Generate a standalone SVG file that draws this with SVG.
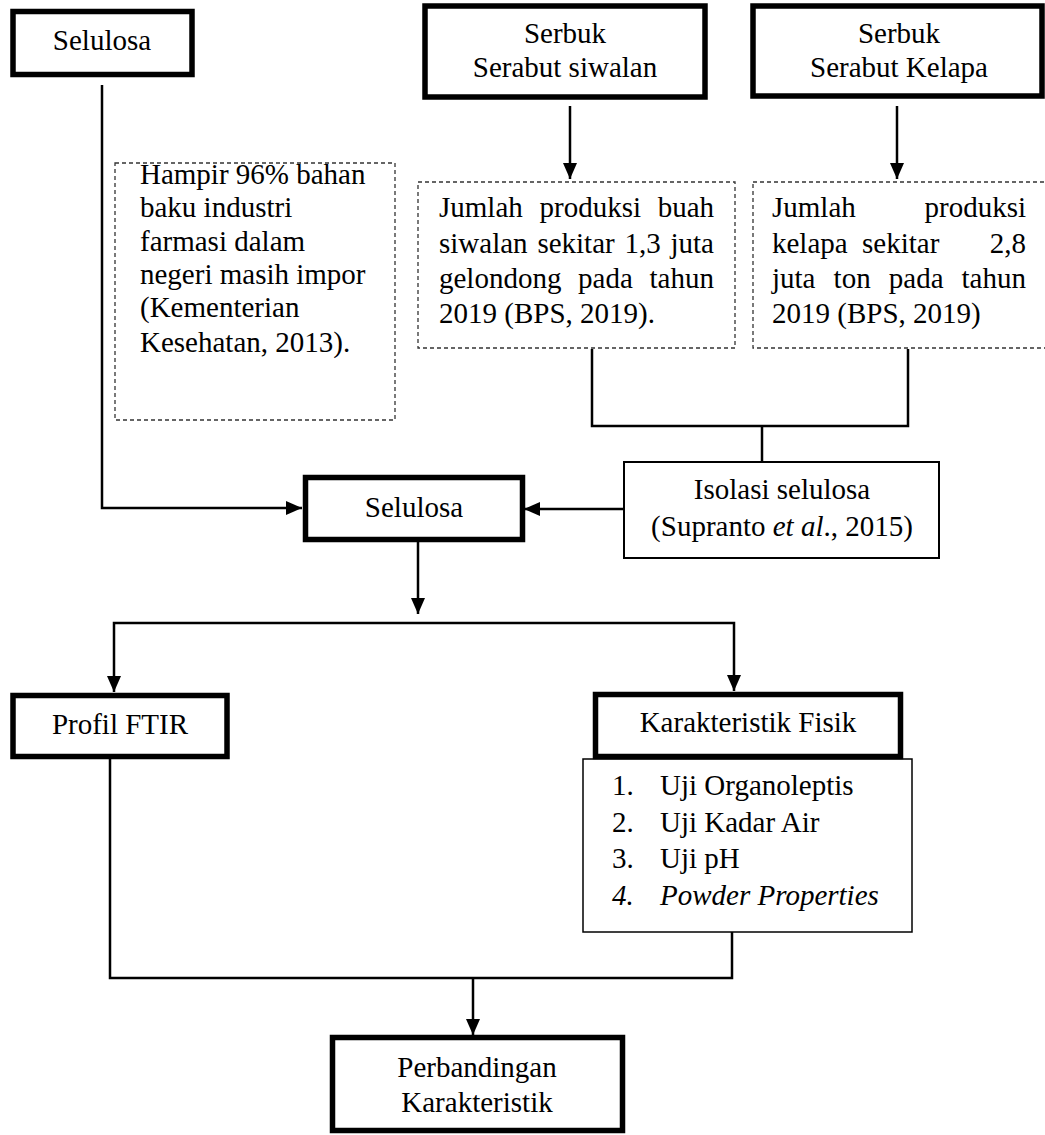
<svg xmlns="http://www.w3.org/2000/svg" width="1045" height="1135" viewBox="0 0 1045 1135">
<style>
text{font-family:"Liberation Serif","Times New Roman",serif;font-size:29px;fill:#000}
.c{text-anchor:middle}
.e{text-anchor:end}
.i{font-style:italic}
.thick{fill:#fff;stroke:#000;stroke-width:5.5}
.thin{fill:#fff;stroke:#000;stroke-width:2}
.dash{fill:#fff;stroke:#333;stroke-width:1.3;stroke-dasharray:4 3}
.conn path{fill:none;stroke:#000;stroke-width:2.5}
</style>
<defs>
<marker id="ah" markerUnits="userSpaceOnUse" viewBox="0 0 16 14" refX="16" refY="7" markerWidth="16" markerHeight="14" orient="auto">
<path d="M0,0 L16,7 L0,14 z" fill="#000"/>
</marker>
</defs>
<rect width="1045" height="1135" fill="#fff"/>

<g class="conn">
<path d="M102,85 V508 H302" marker-end="url(#ah)"/>
<path d="M570,106 V179" marker-end="url(#ah)"/>
<path d="M897,106 V179" marker-end="url(#ah)"/>
<path d="M592,349 V426 H908 V349"/>
<path d="M762,426 V461"/>
<path d="M623,509 H524" marker-end="url(#ah)"/>
<path d="M418,542 V614" marker-end="url(#ah)"/>
<path d="M418,623 H114 V692" marker-end="url(#ah)"/>
<path d="M418,623 H734 V691" marker-end="url(#ah)"/>
<path d="M110,757 V978 H732 V932"/>
<path d="M473,978 V1035" marker-end="url(#ah)"/>
</g>

<g id="selulosa-top">
<rect class="thick" x="13" y="11.5" width="179" height="63"/>
<text class="c" x="102" y="50">Selulosa</text>
</g>

<g id="serbuk-siwalan">
<rect class="thick" x="425" y="6" width="280" height="91"/>
<text class="c" x="565" y="43">Serbuk</text>
<text class="c" x="565" y="77">Serabut siwalan</text>
</g>

<g id="serbuk-kelapa">
<rect class="thick" x="753" y="6" width="289" height="90"/>
<text class="c" x="899" y="43">Serbuk</text>
<text class="c" x="899" y="77">Serabut Kelapa</text>
</g>

<g id="info-impor">
<rect class="dash" x="115" y="163" width="280" height="257"/>
<text x="140" y="184">Hampir 96% bahan</text>
<text x="140" y="217">baku industri</text>
<text x="140" y="251">farmasi dalam</text>
<text x="140" y="284">negeri masih impor</text>
<text x="140" y="317">(Kementerian</text>
<text x="140" y="352">Kesehatan, 2013).</text>
</g>

<g id="info-siwalan">
<rect class="dash" x="418" y="182" width="317" height="166"/>
<text x="439" y="217">Jumlah</text><text x="539.5" y="217">produksi</text><text class="e" x="714" y="217">buah</text>
<text x="439" y="253">siwalan</text><text x="537.4" y="253">sekitar</text><text x="624.5" y="253">1,3</text><text class="e" x="714" y="253">juta</text>
<text x="439" y="288">gelondong</text><text x="578.1" y="288">pada</text><text class="e" x="714" y="288">tahun</text>
<text x="439" y="323">2019 (BPS, 2019).</text>
</g>

<g id="info-kelapa">
<rect class="dash" x="753" y="182" width="320" height="166"/>
<text x="772" y="217">Jumlah</text><text class="e" x="1026" y="217">produksi</text>
<text x="772" y="253">kelapa</text><text x="862" y="253">sekitar</text><text class="e" x="1026" y="253">2,8</text>
<text x="772" y="288">juta</text><text x="833.6" y="288">ton</text><text x="888.8" y="288">pada</text><text class="e" x="1026" y="288">tahun</text>
<text x="772" y="323">2019 (BPS, 2019)</text>
</g>

<g id="isolasi">
<rect class="thin" x="624" y="462" width="315" height="96"/>
<text class="c" x="782" y="499">Isolasi selulosa</text>
<text class="c" x="782" y="536">(Supranto <tspan class="i">et al</tspan>., 2015)</text>
</g>

<g id="selulosa-mid">
<rect class="thick" x="305.5" y="477.5" width="217" height="62"/>
<text class="c" x="414" y="517">Selulosa</text>
</g>

<g id="profil-ftir">
<rect class="thick" x="13" y="695.5" width="214" height="61"/>
<text class="c" x="120" y="734">Profil FTIR</text>
</g>

<g id="karakteristik-fisik">
<rect class="thin" x="583" y="759" width="329" height="173" style="stroke-width:1.5"/>
<rect class="thick" x="595.5" y="694.5" width="305" height="62"/>
<text class="c" x="748" y="732">Karakteristik Fisik</text>
<text x="612" y="795">1.</text><text x="660" y="795">Uji Organoleptis</text>
<text x="612" y="832">2.</text><text x="660" y="832">Uji Kadar Air</text>
<text x="612" y="868">3.</text><text x="660" y="868">Uji pH</text>
<text class="i" x="612" y="905">4.</text><text class="i" x="660" y="905">Powder Properties</text>
</g>

<g id="perbandingan">
<rect class="thick" x="332.5" y="1037.5" width="290" height="93"/>
<text class="c" x="477" y="1077">Perbandingan</text>
<text class="c" x="477" y="1112">Karakteristik</text>
</g>
</svg>
